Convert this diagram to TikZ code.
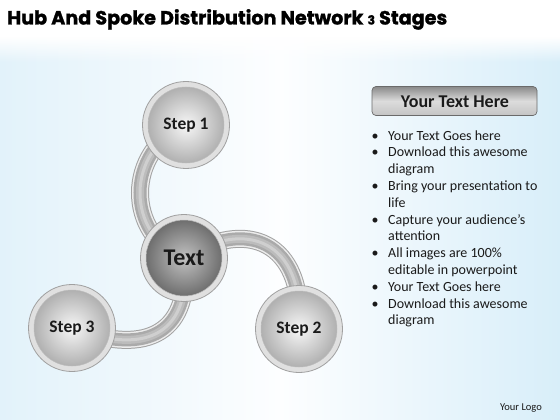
\documentclass[tikz,border=0pt]{standalone}
\usepackage{fontspec}
\setmainfont{Carlito}
\newfontfamily\titlefont{Poppins}[BoldFeatures={FakeBold=1.3}]
\usetikzlibrary{fadings}
\pgfdeclarelayer{bg}\pgfdeclarelayer{tubelayer}\pgfsetlayers{bg,tubelayer,main}
\definecolor{skyL}{HTML}{E2F2FA}
\definecolor{skyR}{HTML}{D8EEF9}
\definecolor{skyM}{HTML}{FDFEFF}
\definecolor{ringfill}{HTML}{E0E0E0}
\definecolor{ringedge}{HTML}{A0A0A0}
\definecolor{tubeout}{HTML}{A2A2A2}
\definecolor{tuberim}{HTML}{ECECEC}
\definecolor{tubedark}{HTML}{AAAAAA}
\definecolor{tubemid}{HTML}{BCBCBC}
\definecolor{tubelight}{HTML}{CFCFCF}
\definecolor{inkcol}{HTML}{1A1A1A}
\definecolor{ballin}{HTML}{F7F7F7}
\definecolor{ballout}{HTML}{A6A6A6}
\definecolor{hubin}{HTML}{C2C2C2}
\definecolor{hubout}{HTML}{626262}
\definecolor{hdrtop}{HTML}{8A8A8A}
\definecolor{hdrmid}{HTML}{DCDCDC}
\definecolor{hdrbot}{HTML}{C4C4C4}
\definecolor{hdredge}{HTML}{6A6A6A}
\begin{document}
\begin{tikzpicture}[x=1pt,y=-1pt,
  ball/.style 2 args={circle, minimum size=87pt, inner sep=0pt, fill=ringfill, draw=ringedge, line width=0.8pt,
    path picture={\shade[inner color=#1, outer color=#2] (path picture bounding box.center) circle[radius=38pt];
      \draw[ringedge!70, line width=0.5pt] (path picture bounding box.center) circle[radius=38pt];}},
  steplabel/.style={font=\bfseries\fontsize{17.5}{19}\selectfont, text=inkcol},
  tube/.style={draw=tubeout, line width=18pt,
    postaction={draw=tuberim, line width=16pt},
    postaction={draw=tubedark, line width=13pt},
    postaction={draw=tubemid, line width=8pt},
    postaction={draw=tubelight, line width=3pt}},
  bline/.style={anchor=base west, inner sep=0pt, font=\fontsize{14}{15}\selectfont, text=inkcol},
  bdot/.style={anchor=base, inner sep=0pt, font=\fontsize{14}{15}\selectfont, text=inkcol}]
\useasboundingbox (0,0) rectangle (560,420);
\begin{pgfonlayer}{bg}
  \fill[white] (0,0) rectangle (560,420);
  \shade[left color=skyL, right color=skyR, middle color=skyM] (0,38) rectangle (560,420);
  \fill[white, path fading=south] (0,37) rectangle (560,62);
\end{pgfonlayer}

\node[anchor=base west, inner sep=0pt, text=black] (title) at (7,24.5)
  {\resizebox{440pt}{!}{\titlefont\bfseries Hub And Spoke Distribution Network {\fontsize{6.5}{7}\selectfont 3} Stages}};

\node[ball={ballin}{ballout}] (s1) at (186,125) {};
\node[ball={hubin}{hubout}] (hub) at (184,258) {};
\node[ball={ballin}{ballout}] (s2) at (299,329) {};
\node[ball={ballin}{ballout}] (s3) at (72,328) {};
\node[steplabel] (t1) at (s1) {Step 1};
\node[steplabel] (t2) at (s2) {Step 2};
\node[steplabel] (t3) at (s3) {Step 3};
\node[font=\bfseries\fontsize{24}{26}\selectfont, text=inkcol] (th) at (hub) {Text};

\begin{pgfonlayer}{tubelayer}
  \draw[tube] (s1.center) .. controls (125,150) and (125,235) .. (hub.center);
  \draw[tube] (hub.center) .. controls (245,218) and (305,240) .. (s2.center);
  \draw[tube] (hub.center) .. controls (192,330) and (150,358) .. (s3.center);
\end{pgfonlayer}

\shade[rounded corners=4pt, draw=hdredge, line width=0.7pt, top color=hdrtop, bottom color=hdrbot, middle color=hdrmid]
  (372,86.5) rectangle (537,115.5);
\node[font=\bfseries\fontsize{18}{20}\selectfont, text=inkcol] (hdr) at (455,101.5) {Your Text Here};

\node[bdot] (b1) at (375,140) {•};
\node[bline] (l1) at (388,140) {Your Text Goes here};
\node[bdot] (b2) at (375,156.8) {•};
\node[bline] (l2) at (388,156.8) {Download this awesome};
\node[bline] (l3) at (388,173.6) {diagram};
\node[bdot] (b3) at (375,190.4) {•};
\node[bline] (l4) at (388,190.4) {Bring your presentation to};
\node[bline] (l5) at (388,207.2) {life};
\node[bdot] (b4) at (375,224) {•};
\node[bline] (l6) at (388,224) {Capture your audience’s};
\node[bline] (l7) at (388,240.8) {attention};
\node[bdot] (b5) at (375,257.6) {•};
\node[bline] (l8) at (388,257.6) {All images are 100\%};
\node[bline] (l9) at (388,274.4) {editable in powerpoint};
\node[bdot] (b6) at (375,291.2) {•};
\node[bline] (l10) at (388,291.2) {Your Text Goes here};
\node[bdot] (b7) at (375,308) {•};
\node[bline] (l11) at (388,308) {Download this awesome};
\node[bline] (l12) at (388,324.8) {diagram};

\node[font=\fontsize{10.5}{12}\selectfont, text=inkcol] (logo) at (521,408) {Your Logo};
\end{tikzpicture}
\end{document}
